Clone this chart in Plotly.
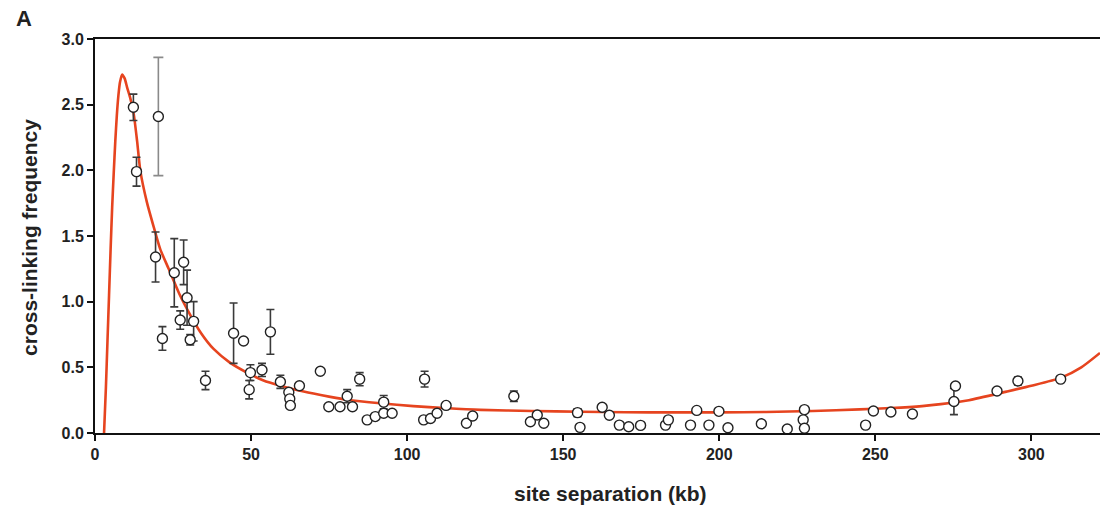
import plotly.graph_objects as go

# ---- data ----
# measured points (site separation kb, cross-linking frequency, symmetric error)
sep_kb = [12.3, 13.3, 19.4, 21.6, 25.4, 28.4, 29.5, 27.3, 31.6, 30.5,
          44.4, 47.6, 56.2, 35.4, 49.8, 49.4, 53.5, 59.4, 65.5, 62.1,
          62.4, 62.6, 72.2, 74.9, 78.5, 82.5, 80.8, 84.8, 92.5, 87.2,
          89.8, 92.5, 95.2, 105.6, 105.3, 107.5, 109.6, 112.5, 119.0, 121.0,
          134.2, 139.5, 141.7, 143.8, 154.6, 155.4, 162.5, 164.8, 168.0, 171.0,
          174.8, 182.8, 183.7, 190.8, 192.8, 196.7, 199.9, 202.8, 213.5, 221.8,
          227.3, 226.9, 227.3, 246.9, 249.4, 255.0, 261.9, 275.2, 275.7, 289.0,
          295.7, 309.4]
freq = [2.48, 1.99, 1.34, 0.72, 1.22, 1.30, 1.03, 0.86, 0.85, 0.71,
        0.76, 0.70, 0.77, 0.40, 0.46, 0.33, 0.48, 0.39, 0.36, 0.31,
        0.26, 0.21, 0.47, 0.20, 0.20, 0.20, 0.28, 0.41, 0.235, 0.10,
        0.125, 0.15, 0.15, 0.41, 0.10, 0.11, 0.15, 0.21, 0.074, 0.13,
        0.28, 0.086, 0.137, 0.074, 0.155, 0.043, 0.196, 0.135, 0.06, 0.048,
        0.058, 0.06, 0.10, 0.06, 0.172, 0.06, 0.165, 0.04, 0.07, 0.03,
        0.178, 0.10, 0.036, 0.06, 0.168, 0.16, 0.145, 0.24, 0.358, 0.32,
        0.396, 0.41]
freq_err = [0.10, 0.11, 0.19, 0.09, 0.26, 0.17, 0.21, 0.07, 0.15, 0.04,
            0.23, 0.0, 0.17, 0.07, 0.06, 0.07, 0.05, 0.05, 0.0, 0.0,
            0.0, 0.0, 0.0, 0.0, 0.0, 0.0, 0.05, 0.05, 0.05, 0.0,
            0.0, 0.0, 0.0, 0.06, 0.0, 0.0, 0.0, 0.02, 0.0, 0.0,
            0.04, 0.0, 0.0, 0.0, 0.03, 0.0, 0.02, 0.0, 0.0, 0.0,
            0.0, 0.0, 0.0, 0.0, 0.0, 0.0, 0.0, 0.0, 0.0, 0.0,
            0.0, 0.0, 0.0, 0.02, 0.0, 0.0, 0.0, 0.10, 0.0, 0.0,
            0.03, 0.0]

# the single point drawn with a grey error bar
grey_sep = [20.3]
grey_freq = [2.41]
grey_err = [0.45]

# fitted model curve
fit_kb = [2.9, 3.5, 4.0, 4.5, 5.0, 5.5, 6.0, 6.5, 7.0, 7.5, 8.0, 8.7, 9.5, 10.3,
          11.3, 12.4, 13.5, 14.5, 16.6, 18.8, 20.9, 23.6, 27.0, 30.5, 34.0, 38.0,
          43.0, 48.7, 54.0, 59.4, 65.0, 70.0, 75.4, 80.8, 91.4, 102.0, 112.0,
          123.5, 140.0, 155.5, 170.0, 185.0, 200.0, 215.0, 230.0, 245.0, 255.0,
          265.0, 271.0, 280.0, 292.0, 300.0, 309.4, 316.0, 322.0]
fit_freq = [0.0, 0.35, 0.7, 1.05, 1.4, 1.72, 1.98, 2.22, 2.42, 2.57, 2.67, 2.73, 2.70, 2.63,
            2.55, 2.43, 2.22, 2.0, 1.76, 1.57, 1.40, 1.25, 1.06, 0.9, 0.76, 0.64,
            0.54, 0.46, 0.40, 0.36, 0.325, 0.30, 0.275, 0.253, 0.226, 0.205, 0.19,
            0.176, 0.168, 0.162, 0.158, 0.157, 0.157, 0.16, 0.168, 0.18, 0.19,
            0.205, 0.22, 0.25, 0.315, 0.36, 0.42, 0.5, 0.61]

x_ticks = [0, 50, 100, 150, 200, 250, 300]
y_ticks = [0.0, 0.5, 1.0, 1.5, 2.0, 2.5, 3.0]

FONT = "Liberation Sans"

fig = go.Figure()

fig.add_trace(go.Scatter(
    x=fit_kb, y=fit_freq, mode="lines",
    line=dict(color="#e6441f", width=2.6, shape="spline", smoothing=0.6),
    hoverinfo="skip", showlegend=False))

with_err_x = [x for x, e in zip(sep_kb, freq_err) if e > 0]
with_err_y = [y for y, e in zip(freq, freq_err) if e > 0]
with_err_e = [e for e in freq_err if e > 0]
no_err_x = [x for x, e in zip(sep_kb, freq_err) if e == 0]
no_err_y = [y for y, e in zip(freq, freq_err) if e == 0]

marker = dict(symbol="circle", size=10, color="white",
              line=dict(color="#222222", width=1.4))

fig.add_trace(go.Scatter(
    x=grey_sep, y=grey_freq, mode="markers", marker=marker,
    error_y=dict(type="data", array=grey_err, color="#8a8a8a", thickness=1.6, width=5),
    cliponaxis=False, showlegend=False))

fig.add_trace(go.Scatter(
    x=with_err_x, y=with_err_y, mode="markers", marker=marker,
    error_y=dict(type="data", array=with_err_e, color="#3a3a3a", thickness=1.6, width=4),
    cliponaxis=False, showlegend=False))

fig.add_trace(go.Scatter(
    x=no_err_x, y=no_err_y, mode="markers", marker=marker,
    cliponaxis=False, showlegend=False))

tickfont = dict(family=FONT, size=16, color="#222222", weight="bold")
titlefont = dict(family=FONT, size=21, color="#222222", weight="bold")

fig.update_layout(
    width=1100, height=508,
    margin=dict(l=95, r=0, t=39, b=75),
    paper_bgcolor="white", plot_bgcolor="white",
    font=dict(family=FONT),
    xaxis=dict(
        range=[0, 322], tickvals=x_ticks, ticktext=[str(v) for v in x_ticks],
        showgrid=False, zeroline=False,
        showline=True, linecolor="#111111", linewidth=2, mirror=True,
        ticks="outside", ticklen=6, tickwidth=2, tickcolor="#111111",
        tickfont=tickfont,
    ),
    yaxis=dict(
        range=[0, 3.0], tickvals=y_ticks, ticktext=[f"{v:.1f}" for v in y_ticks],
        showgrid=False, zeroline=False,
        showline=True, linecolor="#111111", linewidth=2,
        ticks="outside", ticklen=6, tickwidth=2, tickcolor="#111111",
        tickfont=tickfont,
    ),
    annotations=[
        dict(text="A", xref="paper", yref="paper", x=-0.081, y=1.053,
             xanchor="left", yanchor="middle", showarrow=False,
             font=dict(family=FONT, size=22, color="#222222", weight="bold")),
        dict(text="site separation (kb)", xref="paper", yref="paper",
             x=0.5134, y=-0.1548, xanchor="center", yanchor="middle",
             showarrow=False, font=titlefont),
        dict(text="cross-linking frequency", xref="paper", yref="paper",
             x=-0.0647, y=0.4975, xanchor="center", yanchor="middle",
             textangle=-90, showarrow=False, font=titlefont),
    ],
)

fig.write_html("out.html",
               config={"displayModeBar": False},
               post_script="document.body.style.margin='0';document.body.style.overflow='hidden';")
